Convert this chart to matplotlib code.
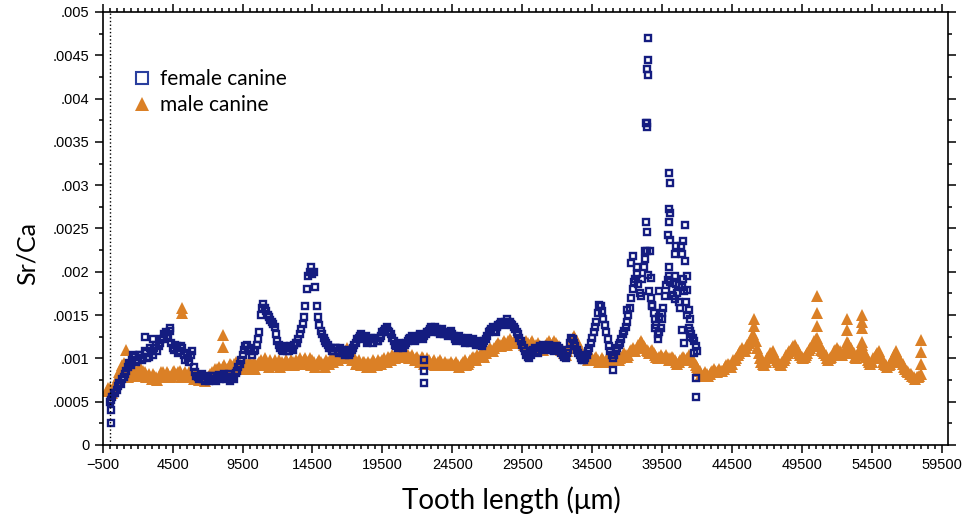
import numpy as np
import matplotlib
matplotlib.use('Agg')
import matplotlib.pyplot as plt
from matplotlib.ticker import FixedLocator, FuncFormatter
from matplotlib.lines import Line2D

# Sr/Ca along the tooth, read every 200 um (one row = 2000 um);
# the "_b" lists are the readings in between (offset 100 um)
step = 200
female_x0 = 0
female_sr = [
    0.0005, 0.00055, 0.0006, 0.00068, 0.0007, 0.00078, 0.00085, 0.00095, 0.00098, 0.00102,   # 0
    0.00098, 0.00104, 0.001, 0.00106, 0.00102, 0.00108, 0.00112, 0.00108, 0.00118, 0.00122,  # 2000
    0.0013, 0.00126, 0.00118, 0.0011, 0.00114, 0.00108, 0.00112, 0.00098, 0.001, 0.00104,    # 4000
    0.0009, 0.0008, 0.00076, 0.00082, 0.00074, 0.00078, 0.00076, 0.0008, 0.00074, 0.00081,   # 6000
    0.00077, 0.00082, 0.00078, 0.00074, 0.00079, 0.00083, 0.0009, 0.00098, 0.0011, 0.00115,  # 8000
    0.00108, 0.00104, 0.0011, 0.00122, 0.0015, 0.00163, 0.00155, 0.00148, 0.00142, 0.00136,  # 10000
    0.0012, 0.00112, 0.00108, 0.00112, 0.00108, 0.00112, 0.00115, 0.00118, 0.00128, 0.0014,  # 12000
    0.0016, 0.00195, 0.00205, 0.002, 0.0016, 0.00138, 0.00128, 0.0012, 0.00115, 0.00112,     # 14000
    0.00108, 0.00112, 0.00106, 0.0011, 0.00104, 0.00108, 0.00106, 0.00112, 0.00118, 0.00124, # 16000
    0.00128, 0.00122, 0.00118, 0.00122, 0.00118, 0.00124, 0.0012, 0.00126, 0.00132, 0.00136, # 18000
    0.0013, 0.00124, 0.00116, 0.00112, 0.00116, 0.00112, 0.00118, 0.00122, 0.00126, 0.0012,  # 20000
    0.00124, 0.00128, 0.00122, 0.00128, 0.00132, 0.00136, 0.0013, 0.00134, 0.00128, 0.00134, # 22000
    0.0013, 0.00126, 0.00132, 0.00126, 0.0012, 0.00126, 0.00122, 0.00118, 0.00124, 0.00118,  # 24000
    0.00122, 0.00116, 0.0012, 0.00114, 0.0012, 0.00126, 0.00132, 0.00136, 0.0013, 0.00138,   # 26000
    0.00142, 0.00138, 0.00145, 0.00142, 0.00138, 0.00134, 0.00128, 0.0012, 0.00112, 0.00104, # 28000
    0.001, 0.00108, 0.00112, 0.00106, 0.00114, 0.00116, 0.0011, 0.00116, 0.00112, 0.00108,   # 30000
    0.00114, 0.0011, 0.00104, 0.001, 0.0011, 0.00124, 0.00118, 0.0011, 0.00104, 0.00098,     # 32000
    0.001, 0.00108, 0.00118, 0.0013, 0.00142, 0.00162, 0.00155, 0.00138, 0.00122, 0.00108,   # 34000
    0.001, 0.00108, 0.00115, 0.00122, 0.00132, 0.00142, 0.00158, 0.0018, 0.00192, 0.00186,   # 36000
    0.00172, 0.00205, 0.00224, 0.00178, 0.00162, 0.00145, 0.00128, 0.00135, 0.00158, 0.00185,# 38000
    0.00195, 0.0018, 0.00168, 0.00175, 0.00158, 0.00192, 0.00165, 0.00135, 0.00128, 0.0012,  # 40000
    0.00108,                                                                                  # 42000
]
female_sr_b = [
    0.00052, 0.0006, 0.00064, 0.00072, 0.00076, 0.00082, 0.0009, 0.00092, 0.00104, 0.00096,    # 100
    0.00104, 0.00098, 0.00108, 0.001, 0.00112, 0.00104, 0.00116, 0.00114, 0.00122, 0.00128,    # 2100
    0.00124, 0.00132, 0.00112, 0.00116, 0.00106, 0.00114, 0.00104, 0.00106, 0.00096, 0.00108,  # 4100
    0.00084, 0.00078, 0.0008, 0.00076, 0.0008, 0.00074, 0.0008, 0.00076, 0.00078, 0.00076,     # 6100
    0.0008, 0.00076, 0.00082, 0.00078, 0.00076, 0.00086, 0.00094, 0.00104, 0.00114, 0.0011,    # 8100
    0.00112, 0.00108, 0.00116, 0.0013, 0.00158, 0.00158, 0.0015, 0.00144, 0.0014, 0.00128,     # 10100
    0.00116, 0.0011, 0.00114, 0.00108, 0.00114, 0.0011, 0.00118, 0.00122, 0.00134, 0.00148,    # 12100
    0.0018, 0.002, 0.00198, 0.00182, 0.00148, 0.00132, 0.00124, 0.00118, 0.00112, 0.00108,     # 14100
    0.00112, 0.00108, 0.00112, 0.00106, 0.0011, 0.00104, 0.0011, 0.00116, 0.00122, 0.00126,    # 16100
    0.00124, 0.00126, 0.0012, 0.00124, 0.00122, 0.0012, 0.00124, 0.0013, 0.00134, 0.00132,     # 18100
    0.00128, 0.0012, 0.00114, 0.00118, 0.00114, 0.00116, 0.0012, 0.00124, 0.00124, 0.00122,    # 20100
    0.00126, 0.00124, 0.00126, 0.0013, 0.00134, 0.00132, 0.00136, 0.0013, 0.00132, 0.00128,    # 22100
    0.00128, 0.0013, 0.00128, 0.00122, 0.00124, 0.00124, 0.0012, 0.00122, 0.0012, 0.0012,      # 24100
    0.00118, 0.00118, 0.00116, 0.00118, 0.00122, 0.0013, 0.00134, 0.00132, 0.00136, 0.0014,    # 26100
    0.0014, 0.00142, 0.00142, 0.0014, 0.00136, 0.0013, 0.00124, 0.00116, 0.00108, 0.00102,     # 28100
    0.00104, 0.0011, 0.00108, 0.00112, 0.00112, 0.00114, 0.00112, 0.00114, 0.0011, 0.00112,    # 30100
    0.00112, 0.00106, 0.00102, 0.00106, 0.00118, 0.00122, 0.00114, 0.00106, 0.001, 0.00098,    # 32100
    0.00104, 0.00112, 0.00124, 0.00136, 0.00152, 0.0016, 0.00146, 0.0013, 0.00114, 0.00104,    # 34100
    0.00104, 0.00112, 0.00118, 0.00128, 0.00136, 0.0015, 0.0017, 0.00188, 0.00198, 0.00176,    # 36100
    0.00192, 0.00215, 0.00196, 0.0017, 0.00152, 0.00138, 0.0013, 0.00146, 0.00172, 0.0019,     # 38100
    0.00188, 0.00172, 0.00186, 0.00165, 0.00182, 0.00178, 0.0015, 0.00132, 0.00124, 0.00114,   # 40100
]

female_extra_x = [70, 70, 2500, 3100, 4300, 22500, 22500, 22500, 35970,
                  38470, 38500, 38400, 38480, 38380, 38450, 38420, 39970, 40060, 39970, 40050,
                  38360, 38420, 39970, 41160, 39900, 40100, 41000, 40500, 40850, 37450,
                  38250, 38650, 40450, 40900, 41150, 37300, 37700, 38700, 39300, 38800,
                  37000, 39250, 39000, 39200, 39500, 40000, 40400, 40700, 41250, 41300,
                  41400, 41500, 40900, 41500, 41100, 41800, 41950, 41950]
female_extra_sr = [0.00025, 0.0004, 0.00125, 0.00122, 0.00135, 0.00098, 0.00085, 0.00072, 0.00087,
                   0.0047, 0.00444, 0.00434, 0.00427, 0.00372, 0.00372, 0.00367, 0.00314, 0.00303, 0.00272, 0.00268,
                   0.00258, 0.00246, 0.00257, 0.00254, 0.00242, 0.00237, 0.00236, 0.0023, 0.0023, 0.00218,
                   0.00224, 0.00224, 0.0022, 0.0022, 0.00212, 0.0021, 0.00205, 0.00193, 0.00178, 0.0016,
                   0.00156, 0.00148, 0.00135, 0.00122, 0.00152, 0.00205, 0.00195, 0.00185, 0.00195, 0.00179,
                   0.00156, 0.00145, 0.00133, 0.00125, 0.00118, 0.00106, 0.00077, 0.00055]

male_x0 = -200
male_sr = [
    0.00062, 0.00066, 0.0006, 0.0007, 0.00078, 0.00088, 0.00095, 0.00088, 0.0008, 0.00084,    # -200
    0.00088, 0.00082, 0.0009, 0.00086, 0.00078, 0.00082, 0.00076, 0.0008, 0.00075, 0.0008,    # 1800
    0.00084, 0.00078, 0.00082, 0.0008, 0.00085, 0.00082, 0.00086, 0.0008, 0.00084, 0.00078,   # 3800
    0.00082, 0.00076, 0.0008, 0.00075, 0.00078, 0.00074, 0.00078, 0.00082, 0.0008, 0.00085,   # 5800
    0.0009, 0.00086, 0.00092, 0.00088, 0.00094, 0.0009, 0.00096, 0.00092, 0.00088, 0.00094,   # 7800
    0.0009, 0.00096, 0.00092, 0.00088, 0.00094, 0.00098, 0.00092, 0.00096, 0.0009, 0.00094,   # 9800
    0.00098, 0.00094, 0.0009, 0.00094, 0.00098, 0.00094, 0.00098, 0.00092, 0.00096, 0.001,    # 11800
    0.00096, 0.001, 0.00096, 0.00092, 0.00096, 0.00094, 0.00098, 0.00094, 0.0009, 0.00096,    # 13800
    0.001, 0.00096, 0.001, 0.00104, 0.001, 0.00106, 0.00112, 0.00104, 0.00098, 0.00094,       # 15800
    0.00098, 0.00092, 0.00096, 0.0009, 0.00094, 0.00098, 0.00094, 0.00098, 0.00094, 0.001,    # 17800
    0.00096, 0.001, 0.00104, 0.001, 0.00104, 0.00108, 0.00104, 0.00106, 0.001, 0.00104,       # 19800
    0.00098, 0.00102, 0.00096, 0.001, 0.00096, 0.00098, 0.00094, 0.00098, 0.00094, 0.00098,   # 21800
    0.00092, 0.00096, 0.00092, 0.00096, 0.00092, 0.00096, 0.0009, 0.00094, 0.00098, 0.00094,  # 23800
    0.00098, 0.00102, 0.00098, 0.00102, 0.00106, 0.00102, 0.00108, 0.00112, 0.00108, 0.00114, # 25800
    0.00118, 0.00114, 0.0012, 0.00116, 0.00122, 0.00118, 0.00122, 0.00118, 0.00122, 0.00116, # 27800
    0.0012, 0.00116, 0.0012, 0.00114, 0.00118, 0.00114, 0.0011, 0.00116, 0.0012, 0.00116,     # 29800
    0.0012, 0.00116, 0.00112, 0.00108, 0.00104, 0.00112, 0.0012, 0.00126, 0.0012, 0.00112,    # 31800
    0.00106, 0.00102, 0.00098, 0.00102, 0.00098, 0.00102, 0.00096, 0.001, 0.00096, 0.001,     # 33800
    0.00096, 0.001, 0.00104, 0.00098, 0.00102, 0.00106, 0.00102, 0.00108, 0.00112, 0.00108,   # 35800
    0.00116, 0.0012, 0.00114, 0.0011, 0.00106, 0.0011, 0.00104, 0.001, 0.00104, 0.001,        # 37800
    0.00104, 0.00098, 0.00102, 0.00098, 0.00094, 0.00098, 0.00102, 0.00098, 0.00104, 0.001,   # 39800
    0.00096, 0.0009, 0.00086, 0.0008, 0.00084, 0.0008, 0.00084, 0.00088, 0.00084, 0.00088,    # 41800
    0.00086, 0.0009, 0.00094, 0.0009, 0.00098, 0.001, 0.00106, 0.00112, 0.00108, 0.00116,     # 43800
    0.0012, 0.00128, 0.0012, 0.00106, 0.00096, 0.00092, 0.001, 0.00106, 0.00108, 0.001,       # 45800
    0.00096, 0.00092, 0.00098, 0.00104, 0.00108, 0.00112, 0.00116, 0.0011, 0.00104, 0.001,    # 47800
    0.00104, 0.0011, 0.00114, 0.0012, 0.00124, 0.00114, 0.00108, 0.00104, 0.00098, 0.00102,   # 49800
    0.00108, 0.00112, 0.00108, 0.00104, 0.0011, 0.00118, 0.00112, 0.00106, 0.001, 0.00108,    # 51800
    0.00116, 0.00106, 0.00098, 0.00094, 0.001, 0.00104, 0.00108, 0.001, 0.00094, 0.0009,      # 53800
    0.00094, 0.001, 0.00108, 0.00102, 0.00096, 0.0009, 0.00086, 0.00082, 0.0008, 0.00076,     # 55800
    0.00078, 0.00082,                                                                         # 57800
]
male_sr_b = [
    0.00066, 0.00064, 0.00066, 0.00074, 0.00084, 0.00092, 0.00086, 0.00078, 0.00086, 0.0008,   # -100
    0.00084, 0.00088, 0.0008, 0.00084, 0.0008, 0.00078, 0.00082, 0.00078, 0.00078, 0.00084,    # 1900
    0.0008, 0.00084, 0.00078, 0.00084, 0.00082, 0.00084, 0.00078, 0.00082, 0.0008, 0.00084,    # 3900
    0.00078, 0.00082, 0.00078, 0.00076, 0.0008, 0.00076, 0.0008, 0.00084, 0.00088, 0.00088,    # 5900
    0.00088, 0.0009, 0.00086, 0.0009, 0.00092, 0.00094, 0.00088, 0.00094, 0.00092, 0.00096,    # 7900
    0.00094, 0.00088, 0.00096, 0.00092, 0.00096, 0.00094, 0.001, 0.00092, 0.00098, 0.00092,    # 9900
    0.00094, 0.00098, 0.00096, 0.00092, 0.00096, 0.00092, 0.00096, 0.00098, 0.00094, 0.00096,  # 11900
    0.00098, 0.00094, 0.001, 0.00098, 0.0009, 0.00096, 0.00096, 0.00094, 0.00098, 0.00094,     # 13900
    0.00098, 0.00102, 0.00098, 0.00102, 0.00104, 0.00102, 0.00106, 0.00098, 0.00102, 0.00096,  # 15900
    0.00094, 0.00096, 0.00094, 0.00096, 0.0009, 0.00096, 0.00092, 0.00096, 0.00098, 0.00096,   # 17900
    0.00102, 0.00098, 0.00102, 0.00106, 0.00102, 0.00106, 0.00102, 0.00104, 0.00102, 0.001,    # 19900
    0.001, 0.00098, 0.00102, 0.00094, 0.001, 0.00096, 0.00096, 0.00092, 0.00096, 0.00096,      # 21900
    0.00094, 0.00094, 0.00094, 0.00094, 0.00094, 0.00092, 0.00092, 0.00096, 0.00092, 0.00096,  # 23900
    0.001, 0.001, 0.00104, 0.00104, 0.00104, 0.00106, 0.0011, 0.0011, 0.00112, 0.00116,        # 25900
    0.00116, 0.00118, 0.00118, 0.0012, 0.0012, 0.0012, 0.0012, 0.0012, 0.00118, 0.00118,       # 27900
    0.00118, 0.00118, 0.00116, 0.00116, 0.00112, 0.00112, 0.00114, 0.00118, 0.00118, 0.00118,  # 29900
    0.00118, 0.00114, 0.0011, 0.00106, 0.00108, 0.00116, 0.00124, 0.00122, 0.00116, 0.00108,   # 31900
    0.00104, 0.001, 0.001, 0.001, 0.001, 0.00098, 0.00098, 0.00098, 0.00098, 0.00098,          # 33900
    0.00098, 0.00102, 0.00102, 0.001, 0.00104, 0.00104, 0.00104, 0.0011, 0.0011, 0.00112,      # 35900
    0.00118, 0.00118, 0.00112, 0.00108, 0.00108, 0.00106, 0.00102, 0.00102, 0.00102, 0.00102,  # 37900
    0.001, 0.001, 0.001, 0.00096, 0.00096, 0.001, 0.001, 0.001, 0.00102, 0.00098,              # 39900
    0.00092, 0.00088, 0.00082, 0.00082, 0.00082, 0.00082, 0.00086, 0.00086, 0.00086, 0.00086,  # 41900
    0.00088, 0.00092, 0.00092, 0.00094, 0.00098, 0.00104, 0.00108, 0.0011, 0.00112, 0.00118,   # 43900
    0.00124, 0.00124, 0.00112, 0.001, 0.00094, 0.00096, 0.00102, 0.00106, 0.00104, 0.00098,    # 45900
    0.00094, 0.00096, 0.001, 0.00106, 0.0011, 0.00114, 0.00112, 0.00106, 0.00102, 0.00102,     # 47900
    0.00106, 0.00112, 0.00116, 0.00122, 0.00118, 0.0011, 0.00106, 0.001, 0.001, 0.00104,       # 49900
    0.0011, 0.0011, 0.00106, 0.00106, 0.00114, 0.00114, 0.00108, 0.00102, 0.00104, 0.00112,    # 51900
    0.0011, 0.00102, 0.00096, 0.00096, 0.00102, 0.00106, 0.00104, 0.00096, 0.00092, 0.00092,   # 53900
    0.00096, 0.00104, 0.00104, 0.00098, 0.00094, 0.00088, 0.00084, 0.00082, 0.00078, 0.00078,  # 55900
    0.0008,                                                                                    # 57900
]

male_extra_x = [1200, 5200, 5200, 8100, 8100, 46100, 46100, 50550, 50550, 50550,
                52760, 52760, 52760, 53790, 53790, 53790, 53790, 58000, 58000, 58000]
male_extra_sr = [0.0011, 0.00158, 0.00152, 0.00127, 0.00113, 0.00146, 0.00137, 0.00172, 0.00152, 0.00137,
                 0.00145, 0.00133, 0.00119, 0.0015, 0.00142, 0.00135, 0.00119, 0.00121, 0.00107, 0.00094]

female_x = female_x0 + step * np.arange(len(female_sr))
female_x_b = female_x0 + step // 2 + step * np.arange(len(female_sr_b))
male_x = male_x0 + step * np.arange(len(male_sr))
male_x_b = male_x0 + step // 2 + step * np.arange(len(male_sr_b))

navy = '#141c80'
orange = '#db8026'

plt.rcParams['font.family'] = ['Liberation Sans', 'DejaVu Sans']
fig = plt.figure(figsize=(9.65, 5.24), dpi=100)
ax = fig.add_axes([0.1064, 0.1508, 0.8760, 0.8263])

tri = dict(marker='^', color=orange, markersize=8.5, linestyle='none', markeredgewidth=0)
sq = dict(marker='s', markerfacecolor='none', markeredgecolor=navy, markersize=5,
          markeredgewidth=1.7, linestyle='none')

ax.plot(male_x, male_sr, **tri)
ax.plot(male_x_b, male_sr_b, **tri)
ax.plot(male_extra_x, male_extra_sr, **tri)
ax.plot(female_x, female_sr, **sq)
ax.plot(female_x_b, female_sr_b, **sq)
ax.plot(female_extra_x, female_extra_sr, **sq)

ax.axvline(0, color='black', linestyle=':', linewidth=1)

ax.set_xlim(-500, 59950)
ax.set_ylim(0, 0.005)
ax.xaxis.set_major_locator(FixedLocator(np.arange(-500, 60000, 5000)))
ax.xaxis.set_minor_locator(FixedLocator(np.arange(-500, 60000, 500)))
ax.yaxis.set_major_locator(FixedLocator(np.arange(0, 0.00501, 0.0005)))
ax.yaxis.set_minor_locator(FixedLocator(np.arange(0, 0.00501, 0.00025)))


def yfmt(v, pos):
    if abs(v) < 1e-12:
        return '0'
    return ('%.4f' % v).rstrip('0').lstrip('0')


ax.yaxis.set_major_formatter(FuncFormatter(yfmt))
ax.tick_params(which='both', direction='out', top=True, right=True, labelsize=10.5, width=1.1)
ax.tick_params(which='major', length=6)
ax.tick_params(which='minor', length=3)
for s in ax.spines.values():
    s.set_linewidth(1.2)

ax.set_xlabel('Tooth length (μm)', fontsize=20, family=['Lato', 'DejaVu Sans'])
ax.xaxis.set_label_coords(0.483, -0.095)
ax.set_ylabel('Sr/Ca', fontsize=18, family=['Lato', 'DejaVu Sans'])
ax.yaxis.set_label_coords(-0.076, 0.443)

handles = [Line2D([], [], marker='s', markerfacecolor='none', markeredgecolor='#2a3f9e',
                  markeredgewidth=1.5, markersize=9, linestyle='none'),
           Line2D([], [], marker='^', color=orange, markersize=10, markeredgewidth=0, linestyle='none')]
ax.legend(handles, ['female canine', 'male canine'], loc='upper left', bbox_to_anchor=(0.012, 0.912),
          frameon=False, handlelength=1.0, handletextpad=0.35, labelspacing=0.3,
          prop={'family': 'Lato', 'size': 15})

fig.savefig('out.png', dpi=100)
